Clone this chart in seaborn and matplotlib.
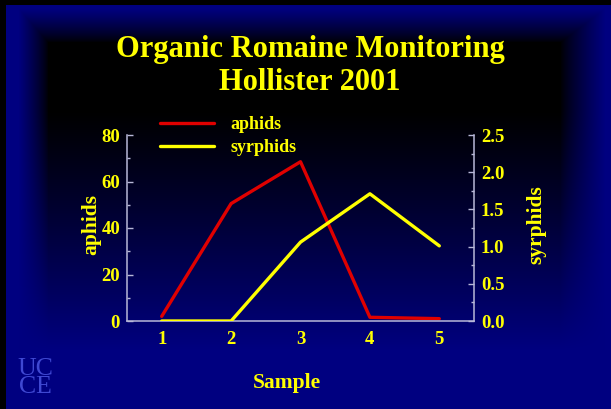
import numpy as np
import pandas as pd
import matplotlib
matplotlib.use('Agg')
import matplotlib.pyplot as plt
import seaborn as sns
from matplotlib.ticker import MultipleLocator, FormatStrFormatter

# chart values
samples = [1, 2, 3, 4, 5]
aphids = [2, 50.5, 68.5, 1.6, 1.0]
syrphids = [0.0, 0.0, 1.06, 1.71, 1.01]

title_lines = ["Organic Romaine Monitoring", "Hollister 2001"]

df = pd.DataFrame({'Sample': samples, 'aphids': aphids, 'syrphids': syrphids})

sns.set_style('white')
plt.rcParams['font.family'] = ['Liberation Serif', 'DejaVu Serif']
plt.rcParams['font.weight'] = 'bold'

W, H = 611, 409
fig = plt.figure(figsize=(W / 100, H / 100), dpi=100)

# slide background: navy frame fading to black, bluer towards the bottom
yy, xx = np.mgrid[0:H, 0:W].astype(float)
edge = np.maximum.reduce([
    np.clip((48 - xx) / 30, 0, 1),
    np.clip((xx - 560) / 45, 0, 1),
    np.clip((42 - yy) / 34, 0, 1),
]) ** 0.8
vert = np.clip((yy - 110) / 240, 0, 1) ** 1.1
b = 1 - (1 - edge) * (1 - vert)
img = np.zeros((H, W, 3))
img[..., 2] = b * 128 / 255
img[:5, :, :] = 0
img[:, :6, :] = 0
bg = fig.add_axes([0, 0, 1, 1], zorder=-10)
bg.imshow(img, aspect='auto', extent=(0, W, H, 0))
bg.axis('off')

ax = fig.add_axes([127 / W, 1 - 321 / H, 347 / W, 186 / H])
ax.set_facecolor('none')
ax2 = ax.twinx()

yellow = '#ffff00'
spine_c = '#b8b8d8'

sns.lineplot(data=df, x='Sample', y='aphids', ax=ax, color='#e00000', lw=2.4, label='aphids', legend=False)
sns.lineplot(data=df, x='Sample', y='syrphids', ax=ax2, color=yellow, lw=2.4, label='syrphids', legend=False)

ax.set_xlim(0.5, 5.5)
ax.set_ylim(0, 80)
ax2.set_ylim(0, 2.5)
ax.set_xticks(samples)
ax.yaxis.set_major_locator(MultipleLocator(20))
ax.yaxis.set_minor_locator(MultipleLocator(10))
ax2.yaxis.set_major_locator(MultipleLocator(0.5))
ax2.yaxis.set_minor_locator(MultipleLocator(0.25))
ax2.yaxis.set_major_formatter(FormatStrFormatter('%.1f'))

for a in (ax, ax2):
    a.spines['top'].set_visible(False)
    for s in a.spines.values():
        s.set_color(spine_c)
        s.set_linewidth(1.1)
    a.tick_params(which='both', direction='in', colors=spine_c, labelcolor=yellow,
                  labelsize=13.5, width=1)
    a.tick_params(which='major', length=4)
    a.tick_params(which='minor', length=2.5)
ax.spines['right'].set_visible(False)
ax2.spines['left'].set_visible(False)
ax2.spines['bottom'].set_visible(False)
ax.tick_params(axis='y', pad=5)
ax.tick_params(axis='x', pad=7)
ax2.tick_params(axis='y', pad=5)

ax.set_xlabel('Sample', color=yellow, fontsize=15.5, fontweight='bold')
ax.set_ylabel('aphids', color=yellow, fontsize=15.5, fontweight='bold')
ax2.set_ylabel('syrphids', color=yellow, fontsize=15.5, fontweight='bold')
ax.xaxis.set_label_coords(0.461, -0.28)
ax.yaxis.set_label_coords(-0.075, 0.52)
ax2.yaxis.set_label_coords(1.15, 0.52)

h1, l1 = ax.get_legend_handles_labels()
h2, l2 = ax2.get_legend_handles_labels()
leg = fig.legend(h1 + h2, l1 + l2, loc='upper left', bbox_to_anchor=(151 / W, 1 - 107 / H),
                 frameon=False, fontsize=13, handlelength=3.0, handletextpad=0.9,
                 borderpad=0, labelspacing=0.35)
for t in leg.get_texts():
    t.set_color(yellow)
    t.set_fontweight('bold')

fig.text(310 / W, 1 - 49 / H, title_lines[0], ha='center', va='center', color=yellow,
         fontsize=22, fontweight='bold')
fig.text(310 / W, 1 - 83 / H, title_lines[1], ha='center', va='center', color=yellow,
         fontsize=22, fontweight='bold')

# UCCE logo in the corner
fig.text(35 / W, 1 - 378 / H, 'UC\nCE', ha='center', va='center', color='#3f48d2',
         fontsize=18.5, fontweight='normal', linespacing=0.8)

fig.savefig('out.png', dpi=100)
